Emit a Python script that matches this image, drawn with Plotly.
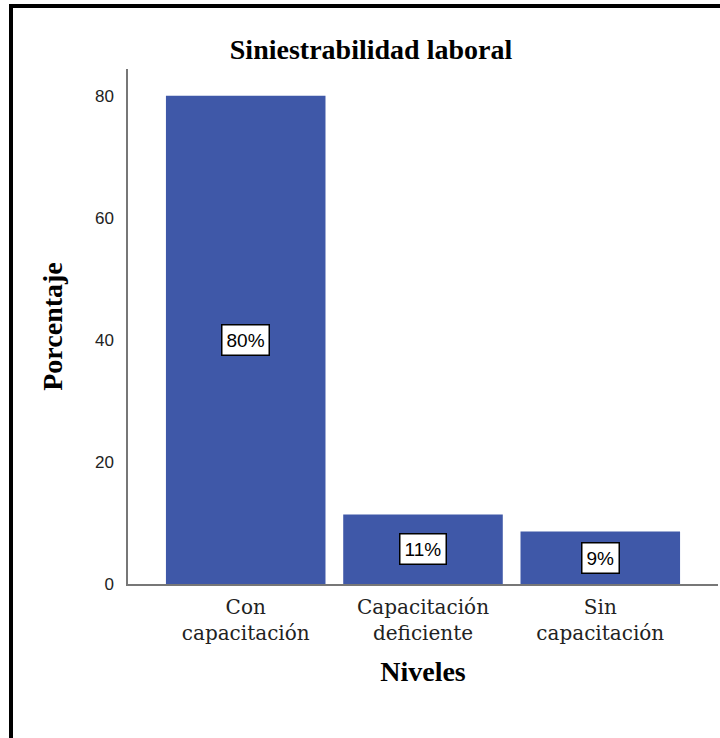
import plotly.graph_objects as go

categories = ["Con<br>capacitación", "Capacitación<br>deficiente", "Sin<br>capacitación"]
values = [80.0, 11.4, 8.6]
labels = ["80%", "11%", "9%"]
y_ticks = [0, 20, 40, 60, 80]

BAR = "#3F58A8"
W, H = 720, 738
L, R, T, B = 128, 2, 69, 154
pw, ph = W - L - R, H - T - B

fig = go.Figure()
fig.add_trace(go.Bar(x=categories, y=values, marker=dict(color=BAR, line=dict(width=0)),
                     width=0.9, hoverinfo="skip"))

for c, v, t in zip(categories, values, labels):
    fig.add_annotation(x=c, y=v / 2, text=t, showarrow=False,
                       font=dict(family="Liberation Sans", size=19, color="black"),
                       bgcolor="white", bordercolor="black", borderwidth=1.5, borderpad=4)

# outer frame (top and left edges)
fx = (11 - L) / pw
fy = (H - B - 6) / ph
fig.add_shape(type="line", xref="paper", yref="paper", x0=fx - 2 / pw, x1=(W - L) / pw, y0=fy, y1=fy,
              line=dict(color="black", width=4))
fig.add_shape(type="line", xref="paper", yref="paper", x0=fx, x1=fx, y0=fy, y1=-B / ph,
              line=dict(color="black", width=4))

fig.update_layout(
    width=W, height=H,
    margin=dict(l=L, r=R, t=T, b=B),
    paper_bgcolor="white", plot_bgcolor="white",
    showlegend=False, bargap=0.1,
    title=dict(text="<b>Siniestrabilidad laboral</b>", x=371 / W, xanchor="center",
               y=1 - 49 / H, yanchor="middle",
               font=dict(family="Liberation Serif", size=28, color="black")),
    xaxis=dict(range=[-0.664, 2.664], showline=True, linecolor="#777777", linewidth=1.5,
               ticks="", showgrid=False, zeroline=False, ticklabelstandoff=4,
               tickfont=dict(family="DejaVu Serif", size=20, color="#222222"),
               title=dict(text="<b>Niveles</b>", standoff=18,
                          font=dict(family="Liberation Serif", size=28, color="black"))),
    yaxis=dict(range=[0, 84.4], tickvals=y_ticks, showline=True, linecolor="#777777", linewidth=1.5,
               ticks="", showgrid=False, zeroline=False, ticklabelstandoff=9,
               tickfont=dict(family="Liberation Sans", size=17, color="#222222"),
               title=dict(text="<b>Porcentaje</b>", standoff=24,
                          font=dict(family="Liberation Serif", size=28, color="black"))),
)

fig.write_html("out.html")
